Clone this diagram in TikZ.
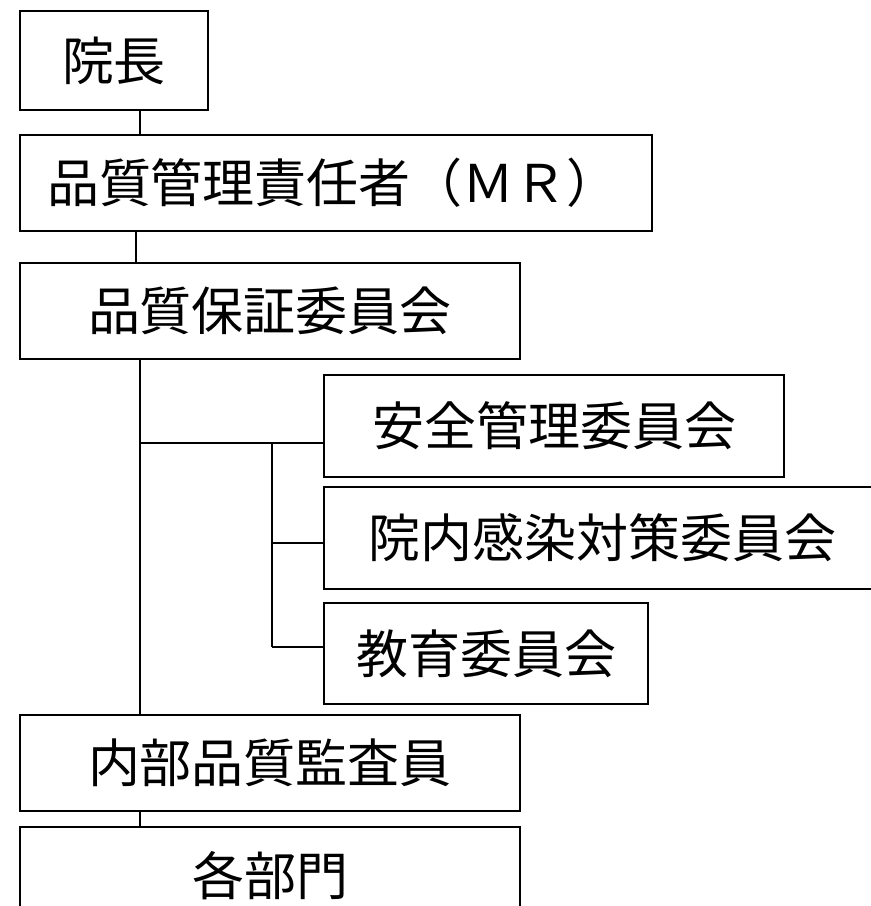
\documentclass[tikz,border=0pt]{standalone}
\usepackage{fontspec}
\setmainfont{Noto Sans CJK JP}
\begin{document}
\begin{tikzpicture}[x=1pt,y=-1pt,
  box/.style={draw=black, line width=1.6pt, fill=white, inner sep=0pt, font=\fontsize{52}{60}\selectfont},
  link/.style={draw=black, line width=1.6pt}]
\useasboundingbox (0,0) rectangle (871,906);
\clip (0,0) rectangle (871,906);
\fill[white] (0,0) rectangle (871,906);
% nodes
\node[box, minimum width=188pt, minimum height=99pt] (incho) at (114,60.5) {院長};
\node[box, minimum width=632pt, minimum height=96pt] (mr) at (336,183) {\hspace*{-6pt}品質管理責任者（ＭＲ）};
\node[box, minimum width=500pt, minimum height=96pt] (qa) at (270,311) {品質保証委員会};
\node[box, minimum width=460pt, minimum height=102pt] (anzen) at (554,426) {安全管理委員会};
\node[box, minimum width=556pt, minimum height=102pt] (kansen) at (602,538) {院内感染対策委員会};
\node[box, minimum width=324pt, minimum height=101pt] (kyoiku) at (486,653.5) {教育委員会};
\node[box, minimum width=500pt, minimum height=96pt] (naibu) at (270,763) {内部品質監査員};
\node[box, minimum width=500pt, minimum height=98pt] (kakubu) at (270,876) {各部門};
% junctions
\coordinate (j1) at (140,443);
\coordinate (j2) at (272,443);
\coordinate (j3) at (272,543);
\coordinate (j4) at (272,647);
% connectors
\draw[link] (incho.south -| j1) -- (mr.north -| j1);
\draw[link] (mr.south -| 136,0) -- (qa.north -| 136,0);
\draw[link] (qa.south -| j1) -- (naibu.north -| j1);
\draw[link] (j1) -- (anzen.west |- j1);
\draw[link] (j2) -- (j4);
\draw[link] (j3) -- (kansen.west |- j3);
\draw[link] (j4) -- (kyoiku.west |- j4);
\draw[link] (naibu.south -| j1) -- (kakubu.north -| j1);
\end{tikzpicture}
\end{document}
